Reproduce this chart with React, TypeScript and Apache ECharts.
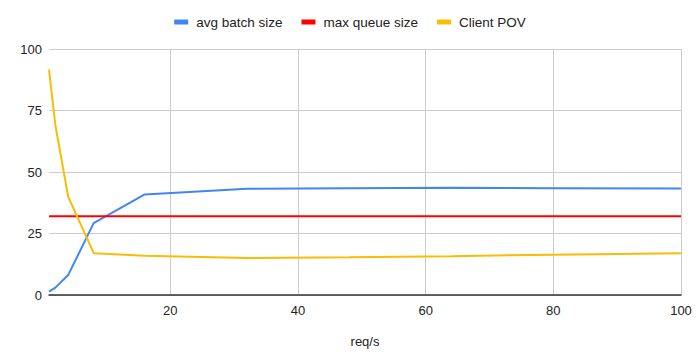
import React, { useEffect, useRef } from "react";
import * as echarts from "echarts";

const reqPerSec = [1, 2, 4, 8, 16, 32, 48, 64, 80, 100];
const avgBatchSize = [1.4, 3.0, 8.1, 29.2, 40.9, 43.2, 43.4, 43.6, 43.4, 43.3];
const maxQueueSize = [32, 32, 32, 32, 32, 32, 32, 32, 32, 32];
const clientPOV = [91.6, 69.0, 40.0, 17.0, 16.0, 15.0, 15.3, 15.8, 16.4, 17.0];
const yTicks = [0, 25, 50, 75, 100];

const FONT = "'Liberation Sans', Arial, sans-serif";

export default function App() {
  const ref = useRef<HTMLDivElement>(null);
  useEffect(() => {
    if (!ref.current) return;
    document.body.style.margin = "0";
    const chart = echarts.init(ref.current, undefined, { renderer: "svg" });
    const pairs = (ys: number[]) => reqPerSec.map((x, i) => [x, ys[i]]);
    chart.setOption({
      animation: false,
      textStyle: { fontFamily: FONT },
      legend: {
        top: 10,
        left: "center",
        icon: "rect",
        itemWidth: 14,
        itemHeight: 5,
        itemGap: 19,
        textStyle: { fontFamily: FONT, fontSize: 13.5, color: "#222", padding: [0, 0, 0, 3] },
        data: ["avg batch size", "max queue size", "Client POV"],
      },
      grid: { left: 49, right: 19, top: 49, bottom: 68, containLabel: false },
      xAxis: {
        type: "value",
        min: 1,
        max: 100,
        name: "req/s",
        nameLocation: "middle",
        nameGap: 40,
        nameTextStyle: { fontFamily: FONT, fontSize: 13, color: "#222" },
        axisLine: { show: true, lineStyle: { color: "#333", width: 1.5 } },
        axisTick: { show: false },
        axisLabel: {
          showMinLabel: false,
          fontFamily: FONT,
          fontSize: 13,
          color: "#222",
          margin: 9,
        },
        splitLine: { show: true, showMinLine: false, lineStyle: { color: "#cccccc", width: 1 } },
      },
      yAxis: {
        type: "value",
        min: yTicks[0],
        max: yTicks[yTicks.length - 1],
        interval: 25,
        axisLine: { show: false },
        axisTick: { show: false },
        axisLabel: { fontFamily: FONT, fontSize: 13, color: "#222", margin: 7 },
        splitLine: { show: true, lineStyle: { color: "#cccccc", width: 1 } },
      },
      series: [
        {
          name: "avg batch size",
          type: "line",
          data: pairs(avgBatchSize),
          showSymbol: false,
          symbol: "none",
          itemStyle: { color: "#4285f4" },
          lineStyle: { color: "#4285f4", width: 2 },
        },
        {
          name: "max queue size",
          type: "line",
          data: pairs(maxQueueSize),
          showSymbol: false,
          symbol: "none",
          itemStyle: { color: "#ff0000" },
          lineStyle: { color: "#ff0000", width: 2 },
        },
        {
          name: "Client POV",
          type: "line",
          data: pairs(clientPOV),
          showSymbol: false,
          symbol: "none",
          itemStyle: { color: "#fbbc04" },
          lineStyle: { color: "#fbbc04", width: 2 },
        },
      ],
    });
    return () => chart.dispose();
  }, []);
  return <div ref={ref} style={{ width: 700, height: 363 }} />;
}
